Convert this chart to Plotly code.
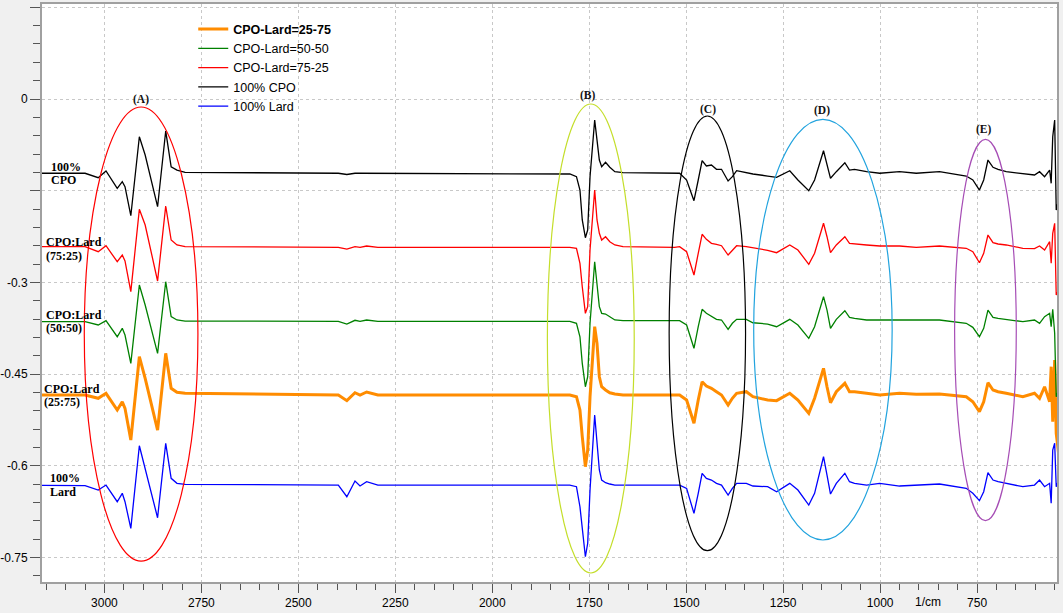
import plotly.graph_objects as go

# Wavenumber breakpoints (1/cm), shared by all spectra
wavenumber = [3200, 3050, 3016, 2996, 2967, 2954, 2947, 2932, 2910, 2895, 2863, 2842, 2828, 2813, 2792,
              2397, 2375, 2354, 2341, 2324, 2295,
              1800, 1783, 1774, 1768, 1760, 1754, 1748, 1736, 1730, 1724, 1718, 1708, 1697, 1684, 1663,
              1530, 1517, 1499, 1480, 1469, 1459, 1448, 1435, 1422, 1409, 1392, 1381, 1370, 1345, 1328,
              1290, 1267, 1233, 1212, 1184, 1169, 1146, 1137, 1128, 1113, 1091, 1079, 1066, 1035, 1001,
              950, 907, 847, 778, 761, 744, 733, 722, 709, 696, 675, 632, 602, 589, 576, 563, 559, 555,
              550, 546, 540]

cpo_100 = [-0.1215, -0.1215, -0.1287, -0.1178, -0.1461, -0.1353, -0.1435, -0.1909, -0.0617, -0.0916,
           -0.1762, -0.0524, -0.1108, -0.1162, -0.1199,
           -0.1215, -0.1235, -0.1215, -0.1215, -0.1215, -0.1215,
           -0.1227, -0.1271, -0.1489, -0.1979, -0.2269, -0.2143, -0.1271, -0.0344, -0.0725, -0.0998,
           -0.1108, -0.1036, -0.1117, -0.1189, -0.1206,
           -0.1215, -0.1215, -0.1325, -0.1664, -0.1325, -0.1009, -0.1096, -0.1080, -0.1150, -0.1150,
           -0.1341, -0.1271, -0.1173, -0.1206, -0.1227,
           -0.1260, -0.1281, -0.1173, -0.1325, -0.1500, -0.1325, -0.0846, -0.1052, -0.1297, -0.1189,
           -0.1042, -0.1162, -0.1150, -0.1189, -0.1215,
           -0.1189, -0.1215, -0.1189, -0.1260, -0.1325, -0.1489, -0.1325, -0.0998, -0.1117, -0.1150,
           -0.1189, -0.1227, -0.1243, -0.1189, -0.1271, -0.1162, -0.1379, -0.0617,
           -0.0344, -0.1816, -0.1652]

cpo_lard_75_25 = [-0.2416, -0.2416, -0.2498, -0.2400, -0.2662, -0.2552, -0.2650, -0.3152, -0.1804, -0.2061,
                  -0.2977, -0.1750, -0.2307, -0.2388, -0.2416,
                  -0.2426, -0.2454, -0.2416, -0.2426, -0.2405, -0.2426,
                  -0.2426, -0.2442, -0.2688, -0.3071, -0.3506, -0.3398, -0.2470, -0.1489, -0.1979, -0.2197,
                  -0.2307, -0.2253, -0.2334, -0.2388, -0.2416,
                  -0.2426, -0.2416, -0.2498, -0.2879, -0.2524, -0.2213, -0.2295, -0.2361, -0.2377, -0.2400,
                  -0.2552, -0.2482, -0.2400, -0.2416, -0.2433,
                  -0.2475, -0.2514, -0.2388, -0.2470, -0.2704, -0.2524, -0.2033, -0.2253, -0.2514, -0.2388,
                  -0.2253, -0.2361, -0.2372, -0.2388, -0.2405,
                  -0.2405, -0.2426, -0.2405, -0.2442, -0.2498, -0.2678, -0.2524, -0.2225, -0.2351, -0.2372,
                  -0.2388, -0.2442, -0.2446, -0.2405, -0.2470, -0.2334, -0.2688, -0.2197,
                  -0.2033, -0.3206, -0.3125]

cpo_lard_50_50 = [-0.3643, -0.3643, -0.3697, -0.3627, -0.3889, -0.3751, -0.3861, -0.4324, -0.3043, -0.3370,
                  -0.4160, -0.2989, -0.3561, -0.3615, -0.3632,
                  -0.3637, -0.3681, -0.3620, -0.3637, -0.3615, -0.3637,
                  -0.3637, -0.3669, -0.3889, -0.4324, -0.4707, -0.4543, -0.3669, -0.2662, -0.3015, -0.3398,
                  -0.3506, -0.3517, -0.3561, -0.3615, -0.3627,
                  -0.3637, -0.3627, -0.3697, -0.4078, -0.3725, -0.3440, -0.3506, -0.3561, -0.3604, -0.3615,
                  -0.3768, -0.3669, -0.3604, -0.3604, -0.3660,
                  -0.3681, -0.3725, -0.3604, -0.3697, -0.3915, -0.3725, -0.3234, -0.3452, -0.3751, -0.3604,
                  -0.3463, -0.3571, -0.3588, -0.3615, -0.3615,
                  -0.3615, -0.3627, -0.3615, -0.3669, -0.3735, -0.3889, -0.3751, -0.3452, -0.3571, -0.3588,
                  -0.3604, -0.3643, -0.3615, -0.3669, -0.3561, -0.3506, -0.3725, -0.3440,
                  -0.3833, -0.4870, -0.4760]

cpo_lard_25_75 = [-0.4842, -0.4842, -0.4896, -0.4814, -0.5088, -0.4952, -0.5060, -0.5578, -0.4216, -0.4569,
                  -0.5415, -0.4160, -0.4733, -0.4798, -0.4814,
                  -0.4842, -0.4935, -0.4805, -0.4842, -0.4793, -0.4842,
                  -0.4842, -0.4870, -0.5088, -0.5524, -0.6015, -0.5742, -0.4870, -0.3725, -0.3997, -0.4543,
                  -0.4707, -0.4760, -0.4805, -0.4826, -0.4842,
                  -0.4842, -0.4842, -0.4924, -0.5305, -0.4924, -0.4625, -0.4695, -0.4733, -0.4788, -0.4842,
                  -0.5006, -0.4896, -0.4814, -0.4788, -0.4870,
                  -0.4924, -0.4935, -0.4814, -0.4924, -0.5142, -0.4896, -0.4406, -0.4707, -0.4968, -0.4788,
                  -0.4651, -0.4788, -0.4788, -0.4814, -0.4842,
                  -0.4814, -0.4831, -0.4826, -0.4870, -0.4952, -0.5115, -0.4952, -0.4641, -0.4760, -0.4788,
                  -0.4814, -0.4870, -0.4814, -0.4896, -0.4707, -0.4952, -0.4379, -0.5279,
                  -0.4270, -0.5469, -0.5796]

lard_100 = [-0.6319, -0.6326, -0.6396, -0.6315, -0.6588, -0.6450, -0.6588, -0.7023, -0.5672, -0.6041,
            -0.6850, -0.5632, -0.6205, -0.6287, -0.6303,
            -0.6315, -0.6506, -0.6249, -0.6331, -0.6261, -0.6315,
            -0.6315, -0.6342, -0.6670, -0.7051, -0.7488, -0.7268, -0.6396, -0.5169, -0.5632, -0.6069,
            -0.6233, -0.6277, -0.6298, -0.6315, -0.6315,
            -0.6315, -0.6315, -0.6369, -0.6778, -0.6450, -0.6123, -0.6205, -0.6233, -0.6287, -0.6315,
            -0.6478, -0.6369, -0.6287, -0.6287, -0.6331,
            -0.6342, -0.6424, -0.6287, -0.6396, -0.6642, -0.6450, -0.5852, -0.6151, -0.6462, -0.6287,
            -0.6123, -0.6261, -0.6287, -0.6315, -0.6287,
            -0.6331, -0.6315, -0.6298, -0.6369, -0.6450, -0.6571, -0.6424, -0.6113, -0.6233, -0.6261,
            -0.6287, -0.6342, -0.6315, -0.6233, -0.6342, -0.6287, -0.6614, -0.5742,
            -0.5632, -0.6342, -0.6233]

series_names = ["<b>CPO-Lard=25-75</b>", "CPO-Lard=50-50", "CPO-Lard=75-25", "100% CPO", "100% Lard"]
series_values = [cpo_lard_25_75, cpo_lard_50_50, cpo_lard_75_25, cpo_100, lard_100]
series_colors = ["#ff8c00", "#008000", "#ff0000", "#000000", "#0000ff"]
series_widths = [3, 1.3, 1.3, 1.3, 1.3]

for v in series_values:
    assert len(v) == len(wavenumber)

# Side labels: (line1, line2, y of line1, y of line2, paper x)
side_labels = [
    ("100%", "CPO", -0.1108, -0.1325, 0.0065),
    ("CPO:Lard", "(75:25)", -0.2334, -0.2563, 0.0015),
    ("CPO:Lard", "(50:50)", -0.3534, -0.3746, 0.0015),
    ("CPO:Lard", "(25:75)", -0.4744, -0.4957, 0.0),
    ("100%", "Lard", -0.6205, -0.6424, 0.0055),
]

# Region ellipses: label, x0, x1, y0, y1, colour, label x, label y
regions = [
    ("(A)", 3052, 2759, -0.0131, -0.7558, "#ff0000", 2905, -0.0016),
    ("(B)", 1858, 1634, -0.0082, -0.7754, "#c4de2a", 1754, 0.0065),
    ("(C)", 1544, 1347, -0.0278, -0.7389, "#000000", 1444, -0.0164),
    ("(D)", 1326, 969, -0.0332, -0.7214, "#21a3de", 1151, -0.0196),
    ("(E)", 808, 649, -0.0659, -0.6898, "#a64db5", 732, -0.0507),
]

y_tickvals = [0.15, 0, -0.15, -0.3, -0.45, -0.6, -0.75]
y_ticktext = ["", "0", "", "-0.3", "-0.45", "-0.6", "-0.75"]

fig = go.Figure()
for name, vals, col, w in zip(series_names, series_values, series_colors, series_widths):
    fig.add_trace(go.Scatter(x=wavenumber, y=vals, mode="lines", name=name,
                             line=dict(color=col, width=w)))

serif = "Liberation Serif, Times New Roman, serif"
sans = "Liberation Sans, Arial, sans-serif"

annotations = []
for l1, l2, y1, y2, px in side_labels:
    for txt, yy in ((l1, y1), (l2, y2)):
        annotations.append(dict(text="<b>%s</b>" % txt, x=px, xref="paper", y=yy, yref="y",
                                xanchor="left", yanchor="middle", showarrow=False,
                                font=dict(family=serif, size=12, color="#000000")))

shapes = []
for lab, x0, x1, y0, y1, col, lx, ly in regions:
    shapes.append(dict(type="circle", xref="x", yref="y", x0=x0, x1=x1, y0=y0, y1=y1,
                       line=dict(color=col, width=1.2)))
    annotations.append(dict(text="<b>%s</b>" % lab, x=lx, y=ly, xref="x", yref="y",
                            showarrow=False, xanchor="center", yanchor="middle",
                            font=dict(family=serif, size=11.5, color="#111111")))

annotations.append(dict(text="1/cm", x=876, xref="x", y=0, yref="paper", yanchor="top",
                        xanchor="center", yshift=-11, showarrow=False,
                        font=dict(family=sans, size=12, color="#000000")))

fig.update_layout(
    width=1063, height=613,
    margin=dict(l=42, r=6, t=4, b=31, autoexpand=False),
    paper_bgcolor="#f0f0f0", plot_bgcolor="#ffffff",
    font=dict(family=sans, size=12, color="#000000"),
    showlegend=True,
    legend=dict(x=0.149, y=0.982, xanchor="left", yanchor="top",
                bgcolor="rgba(0,0,0,0)", borderwidth=0,
                font=dict(family=sans, size=12.5, color="#000000"),
                tracegroupgap=0),
    shapes=shapes, annotations=annotations,
    xaxis=dict(range=[3161, 544], tickmode="linear", tick0=0, dtick=250, automargin=False,
               showgrid=True, gridcolor="#c8c8c8", griddash="dot", gridwidth=1,
               zeroline=False, showline=True, linecolor="#a0a0a0", linewidth=2, mirror=True,
               ticks="outside", ticklen=9, tickcolor="#555555", tickwidth=1,
               minor=dict(tickmode="linear", tick0=0, dtick=50, ticks="outside", ticklen=6,
                          tickcolor="#555555", showgrid=False),
               tickfont=dict(family=sans, size=12, color="#000000")),
    yaxis=dict(range=[-0.7901, 0.1554], tickmode="array", tickvals=y_tickvals, ticktext=y_ticktext,
               automargin=False,
               showgrid=True, gridcolor="#c8c8c8", griddash="dot", gridwidth=1,
               zeroline=False, showline=True, linecolor="#a0a0a0", linewidth=2, mirror=True,
               ticks="outside", ticklen=10, tickcolor="#555555", tickwidth=1,
               minor=dict(tickmode="linear", tick0=0, dtick=0.03, ticks="outside", ticklen=7,
                          tickcolor="#555555", showgrid=False),
               tickfont=dict(family=sans, size=12, color="#000000")),
)

fig.write_html("out.html", config={"displayModeBar": False},
               post_script="document.body.style.margin='0';")
